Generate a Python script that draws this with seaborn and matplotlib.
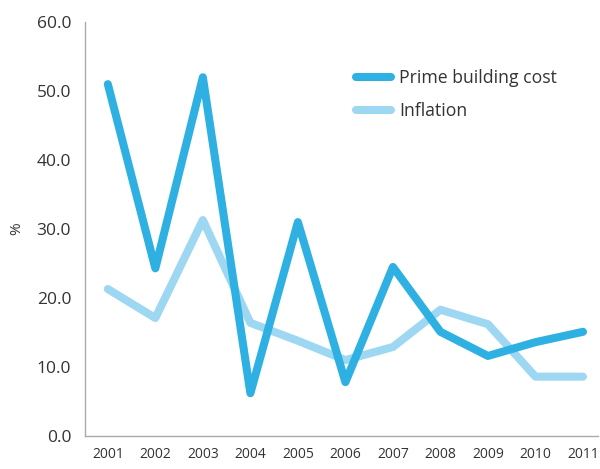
import matplotlib
matplotlib.use("Agg")
import matplotlib.pyplot as plt
from matplotlib.lines import Line2D
import seaborn as sns
import pandas as pd

years = [2001, 2002, 2003, 2004, 2005, 2006, 2007, 2008, 2009, 2010, 2011]
prime_building_cost = [51.0, 24.3, 52.0, 6.2, 31.0, 7.8, 24.5, 15.1, 11.6, 13.6, 15.1]
inflation = [21.3, 17.1, 31.3, 16.4, 13.8, 11.0, 12.9, 18.3, 16.2, 8.6, 8.6]
series_names = ["Prime building cost", "Inflation"]
y_ticks = [0, 10, 20, 30, 40, 50, 60]

df = pd.DataFrame({
    "year": years * 2,
    "value": prime_building_cost + inflation,
    "series": [series_names[0]] * len(years) + [series_names[1]] * len(years),
})

sns.set_style("white")
plt.rcParams["font.family"] = ["Open Sans", "DejaVu Sans"]

fig = plt.figure(figsize=(6.0, 4.69), dpi=100)
ax = fig.add_axes([0.1417, 0.0704, 0.8553, 0.8826])

palette = {series_names[0]: "#2eb1e2", series_names[1]: "#9dd7f1"}
sns.lineplot(data=df, x="year", y="value", hue="series", palette=palette,
             hue_order=[series_names[1], series_names[0]],
             linewidth=5.8, ax=ax, legend=False)
for line in ax.lines:
    line.set_solid_capstyle("round")
    line.set_solid_joinstyle("round")

ax.set_xlim(2000.52, 2011.32)
ax.set_ylim(0, 60)
ax.set_xticks(years)
ax.set_xticklabels([str(y) for y in years], fontsize=10, color="#333333")
ax.set_yticks(y_ticks)
ax.set_yticklabels([f"{v:.1f}" for v in y_ticks], fontsize=12.5, color="#333333")
ax.tick_params(axis="both", length=0)
ax.tick_params(axis="x", pad=8)
ax.tick_params(axis="y", pad=10)
ax.set_xlabel("")
ax.set_ylabel("%", fontsize=11, color="#333333", labelpad=9)

for side in ["top", "right"]:
    ax.spines[side].set_visible(False)
for side in ["left", "bottom"]:
    ax.spines[side].set_color("#aaaaaa")
    ax.spines[side].set_linewidth(1.0)

handles = [Line2D([0], [0], color=palette[n], linewidth=5.8, solid_capstyle="round")
           for n in series_names]
ax.legend(handles, series_names, loc="upper left", bbox_to_anchor=(0.497, 0.925),
          frameon=False, fontsize=12.7, handlelength=2.0, handletextpad=0.45,
          labelspacing=0.85, labelcolor="#333333")

fig.savefig("out.png", dpi=100)
